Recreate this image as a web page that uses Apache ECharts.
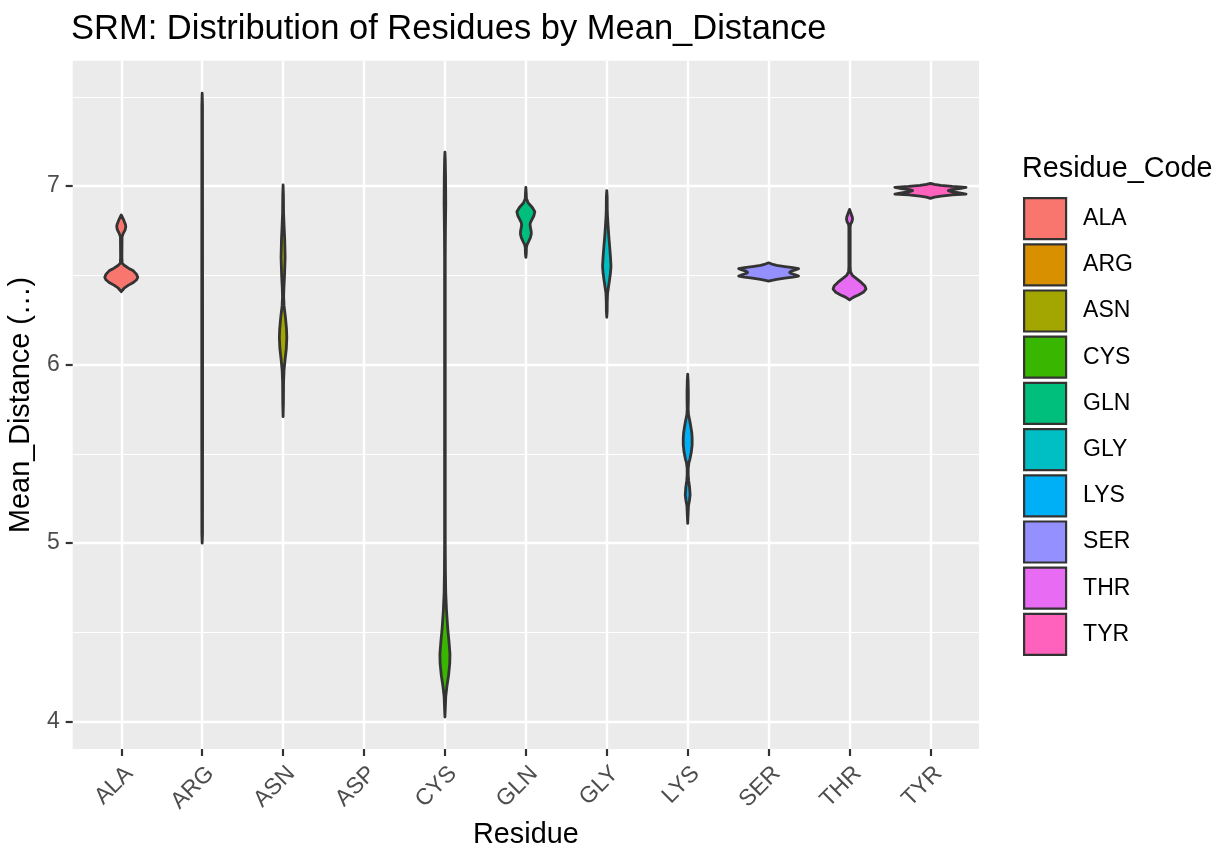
<!DOCTYPE html>
<html>
<head>
<meta charset="utf-8">
<script src="https://cdn.jsdelivr.net/npm/echarts@6/dist/echarts.min.js"></script>
<style>
  html, body { margin: 0; padding: 0; background: #fff; }
  #chartmain { width: 1220px; height: 843px; }
</style>
</head>
<body>
<div id="chartmain"></div>
<script>
// x axis categories (ASP has no data)
var residues = ['ALA', 'ARG', 'ASN', 'ASP', 'CYS', 'GLN', 'GLY', 'LYS', 'SER', 'THR', 'TYR'];
var yTicks = [4, 5, 6, 7];
var yMinorTicks = [4.5, 5.5, 6.5, 7.5];

// violin outlines: [Mean_Distance, half width in category units]
var alaProfile = [[6.838,0],[6.81,0.03],[6.785,0.052],[6.772,0.056],[6.755,0.048],[6.735,0.025],[6.716,0.01],[6.6,0.008],[6.567,0.012],[6.555,0.04],[6.54,0.09],[6.525,0.15],[6.505,0.19],[6.489,0.204],[6.475,0.19],[6.46,0.15],[6.445,0.09],[6.43,0.04],[6.415,0.012],[6.408,0]];
var argProfile = [[7.52,0],[7.45,0.004],[6.3,0.005],[5.6,0.005],[5.05,0.004],[5.0,0]];
var asnProfile = [[7.006,0],[6.95,0.004],[6.85,0.006],[6.78,0.012],[6.7,0.02],[6.6,0.025],[6.5,0.018],[6.43,0.01],[6.38,0.007],[6.33,0.012],[6.26,0.03],[6.2,0.042],[6.15,0.046],[6.09,0.04],[6.03,0.025],[5.97,0.012],[5.9,0.006],[5.78,0.004],[5.708,0]];
var cysProfile = [[7.19,0],[7.15,0.004],[7.05,0.008],[6.9,0.01],[6.75,0.006],[6.6,0.004],[5.0,0.004],[4.85,0.006],[4.72,0.01],[4.62,0.02],[4.52,0.035],[4.45,0.05],[4.38,0.062],[4.33,0.06],[4.26,0.045],[4.2,0.025],[4.14,0.01],[4.08,0.005],[4.026,0]];
var glnProfile = [[6.993,0],[6.96,0.005],[6.93,0.007],[6.905,0.03],[6.88,0.08],[6.856,0.111],[6.835,0.1],[6.815,0.078],[6.795,0.056],[6.782,0.052],[6.765,0.058],[6.745,0.066],[6.731,0.067],[6.71,0.055],[6.688,0.033],[6.67,0.014],[6.655,0.007],[6.62,0.005],[6.6,0]];
var glyProfile = [[6.974,0],[6.94,0.005],[6.87,0.006],[6.83,0.009],[6.78,0.016],[6.72,0.025],[6.66,0.036],[6.6,0.046],[6.55,0.052],[6.51,0.045],[6.47,0.033],[6.43,0.02],[6.4,0.01],[6.35,0.006],[6.3,0.005],[6.265,0]];
var lysProfile = [[5.947,0],[5.91,0.005],[5.85,0.008],[5.8,0.008],[5.75,0.006],[5.72,0.01],[5.69,0.024],[5.66,0.036],[5.62,0.05],[5.59,0.055],[5.55,0.055],[5.51,0.045],[5.475,0.03],[5.45,0.015],[5.42,0.007],[5.385,0.006],[5.35,0.012],[5.31,0.024],[5.27,0.03],[5.24,0.022],[5.21,0.01],[5.17,0.006],[5.111,0]];
var serProfile = [[6.57,0],[6.563,0.04],[6.556,0.1],[6.549,0.2],[6.543,0.3],[6.537,0.37],[6.53,0.33],[6.524,0.28],[6.517,0.26],[6.51,0.28],[6.503,0.33],[6.496,0.37],[6.49,0.3],[6.484,0.2],[6.477,0.1],[6.472,0.04],[6.468,0]];
var thrProfile = [[6.869,0],[6.845,0.02],[6.825,0.035],[6.813,0.037],[6.8,0.03],[6.785,0.012],[6.77,0.008],[6.55,0.008],[6.52,0.012],[6.5,0.035],[6.48,0.09],[6.46,0.145],[6.44,0.19],[6.423,0.203],[6.405,0.17],[6.39,0.11],[6.378,0.05],[6.362,0]];
var tyrProfile = [[7.015,0],[7.009,0.05],[7.004,0.13],[6.998,0.27],[6.993,0.44],[6.986,0.36],[6.98,0.26],[6.974,0.22],[6.968,0.26],[6.962,0.36],[6.955,0.44],[6.95,0.27],[6.944,0.13],[6.938,0.05],[6.931,0]];

var violins = [
  { name: 'ALA', color: '#F8766D', profile: alaProfile },
  { name: 'ARG', color: '#D89000', profile: argProfile },
  { name: 'ASN', color: '#A3A500', profile: asnProfile },
  { name: 'CYS', color: '#39B600', profile: cysProfile },
  { name: 'GLN', color: '#00BF7D', profile: glnProfile },
  { name: 'GLY', color: '#00BFC4', profile: glyProfile },
  { name: 'LYS', color: '#00B0F6', profile: lysProfile },
  { name: 'SER', color: '#9590FF', profile: serProfile },
  { name: 'THR', color: '#E76BF3', profile: thrProfile },
  { name: 'TYR', color: '#FF62BC', profile: tyrProfile }
];

var positions = residues.map(function (r, i) { return i + 1; });
var font = 'Liberation Sans, Arial, Helvetica, sans-serif';

function violinRenderer(profile, pos, color) {
  return function (params, api) {
    var right = [], left = [];
    for (var i = 0; i < profile.length; i++) {
      right.push(api.coord([pos + profile[i][1], profile[i][0]]));
      left.unshift(api.coord([pos - profile[i][1], profile[i][0]]));
    }
    return {
      type: 'polygon',
      shape: { points: right.concat(left) },
      style: { fill: color, stroke: '#333333', lineWidth: 2.8, lineJoin: 'round' }
    };
  };
}

var myChart = echarts.init(document.getElementById('chartmain'));

var series = violins.map(function (v) {
  var pos = residues.indexOf(v.name) + 1;
  return {
    name: v.name,
    type: 'custom',
    coordinateSystem: 'cartesian2d',
    itemStyle: { color: v.color },
    renderItem: violinRenderer(v.profile, pos, v.color),
    data: [[pos, v.profile[0][0]]]
  };
});

var option = {
  backgroundColor: '#fff',
  textStyle: { fontFamily: font },
  animation: false,
  title: [{
    text: 'SRM: Distribution of Residues by Mean_Distance',
    left: 71, top: 12, padding: 0,
    textStyle: { fontSize: 34.5, fontWeight: 'normal', color: '#000', fontFamily: font }
  }, {
    text: 'Residue_Code',
    left: 1022, top: 155, padding: 0,
    textStyle: { fontSize: 28.8, fontWeight: 'normal', color: '#000', fontFamily: font }
  }],
  legend: {
    orient: 'vertical',
    left: 1023, top: 197,
    padding: 0,
    icon: 'rect',
    itemWidth: 42, itemHeight: 41, itemGap: 3,
    itemStyle: { borderColor: '#333333', borderWidth: 2.2 },
    textStyle: { fontSize: 23, color: '#000', fontFamily: font, padding: [0, 0, 0, 12] },
    data: violins.map(function (v) { return v.name; })
  },
  grid: {
    left: 72.7, top: 60.7, width: 906.3, height: 688.3,
    outerBoundsMode: 'none', containLabel: false,
    show: true, backgroundColor: '#EBEBEB', borderWidth: 0
  },
  xAxis: {
    type: 'value', min: 0.4, max: 11.6,
    name: 'Residue', nameLocation: 'middle', nameGap: 62,
    nameTextStyle: { fontSize: 28.8, color: '#000', fontFamily: font },
    axisLine: { show: false },
    axisTick: { show: true, customValues: positions, length: 7, lineStyle: { color: '#333333', width: 2.2 } },
    axisLabel: {
      customValues: positions, rotate: 45, align: 'right', verticalAlign: 'top', margin: 13,
      fontSize: 23, color: '#4D4D4D', fontFamily: font,
      formatter: function (v) { return residues[Math.round(v) - 1]; }
    },
    splitLine: { show: true, lineStyle: { color: '#ffffff', width: 2.4 } }
  },
  yAxis: [{
    type: 'value', min: 3.847, max: 7.702,
    name: 'Mean_Distance (…)', nameLocation: 'middle', nameGap: 30, nameRotate: 90,
    nameTextStyle: { fontSize: 28.8, color: '#000', fontFamily: font },
    axisLine: { show: false },
    axisTick: { show: true, customValues: yTicks, length: 7, lineStyle: { color: '#333333', width: 2.2 } },
    axisLabel: { customValues: yTicks, margin: 13, fontSize: 23, color: '#4D4D4D', fontFamily: font },
    splitLine: { show: true, lineStyle: { color: '#ffffff', width: 2.4 } }
  }, {
    type: 'value', min: 3.847, max: 7.702, position: 'left',
    axisLine: { show: false },
    axisTick: { show: false, customValues: yMinorTicks },
    axisLabel: { show: false, customValues: yMinorTicks },
    splitLine: { show: true, lineStyle: { color: '#ffffff', width: 1.2 } }
  }],
  series: series
};

myChart.setOption(option);
</script>
</body>
</html>
